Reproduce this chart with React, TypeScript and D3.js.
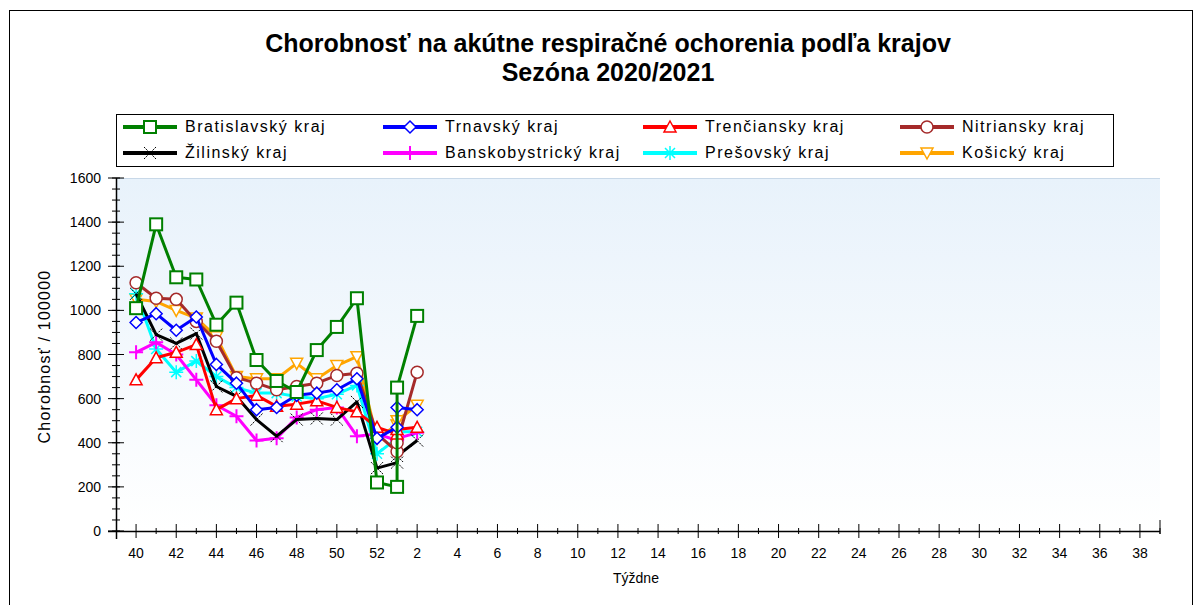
import * as d3 from "d3";

// weeks of season 2020/2021 (week 53 and week 1 share one x slot in the original)
const weeks = ["40", "41", "42", "43", "44", "45", "46", "47", "48", "49", "50", "51", "52", "53", "1", "2"];
const weekSlot = [0, 1, 2, 3, 4, 5, 6, 7, 8, 9, 10, 11, 12, 13, 13, 14];

const xTickLabels = ["40", "42", "44", "46", "48", "50", "52", "2", "4", "6", "8", "10", "12", "14", "16", "18", "20", "22", "24", "26", "28", "30", "32", "34", "36", "38"];
const yTicks = [0, 200, 400, 600, 800, 1000, 1200, 1400, 1600];

const bratislava = [1010, 1390, 1150, 1140, 935, 1035, 775, 680, 630, 820, 925, 1055, 220, 200, 650, 975];
const trnava = [945, 985, 910, 970, 755, 670, 550, 560, 615, 625, 640, 690, 420, 470, 560, 550];
const trencin = [685, 785, 810, 845, 550, 600, 615, 565, 575, 590, 560, 540, 470, 440, 460, 470];
const nitra = [1125, 1055, 1050, 950, 860, 695, 670, 640, 655, 670, 705, 715, 440, 360, 400, 720];
const zilina = [1075, 890, 850, 895, 655, 610, 505, 430, 505, 510, 505, 585, 285, 310, 340, 410];
const bbystrica = [810, 855, 800, 685, 570, 520, 410, 420, 515, 550, 560, 430, 440, 410, 420, 445];
const presov = [1075, 825, 720, 770, 700, 650, 625, 625, 610, 600, 620, 660, 350, 420, 450, 450];
const kosice = [1050, 1040, 1000, 965, 880, 700, 690, 690, 760, 690, 750, 790, 420, 480, 500, 570];

type Marker = "square" | "diamond" | "triangle" | "circle" | "x" | "plus" | "star" | "down";

const series: { name: string; values: number[]; color: string; marker: Marker }[] = [
  { name: "Bratislavský kraj", values: bratislava, color: "#008000", marker: "square" },
  { name: "Trnavský kraj", values: trnava, color: "#0000ff", marker: "diamond" },
  { name: "Trenčiansky kraj", values: trencin, color: "#ff0000", marker: "triangle" },
  { name: "Nitriansky kraj", values: nitra, color: "#a52a2a", marker: "circle" },
  { name: "Žilinský kraj", values: zilina, color: "#000000", marker: "x" },
  { name: "Banskobystrický kraj", values: bbystrica, color: "#ff00ff", marker: "plus" },
  { name: "Prešovský kraj", values: presov, color: "#00ffff", marker: "star" },
  { name: "Košický kraj", values: kosice, color: "#ffa500", marker: "down" },
];

const W = 1198;
const H = 605;
const plot = { left: 116, right: 1160, top: 178, bottom: 531 };
const font = "'Liberation Sans', Arial, sans-serif";

const x = d3.scaleLinear().domain([-1, 51]).range([plot.left, plot.right]);
const y = d3.scaleLinear().domain([0, 1600]).range([plot.bottom, plot.top]);

function MarkerShape({ type, cx, cy, color }: { type: Marker; cx: number; cy: number; color: string }) {
  switch (type) {
    case "square":
      return <rect x={cx - 6} y={cy - 6} width={12} height={12} fill="#fff" stroke={color} strokeWidth={2} />;
    case "diamond":
      return <path d={`M${cx},${cy - 6}L${cx + 6},${cy}L${cx},${cy + 6}L${cx - 6},${cy}Z`} fill="#fff" stroke={color} strokeWidth={1.5} />;
    case "triangle":
      return <path d={`M${cx},${cy - 6}L${cx + 6},${cy + 5}L${cx - 6},${cy + 5}Z`} fill="#fff" stroke={color} strokeWidth={1.5} />;
    case "down":
      return <path d={`M${cx},${cy + 6}L${cx + 6},${cy - 5}L${cx - 6},${cy - 5}Z`} fill="#fff" stroke={color} strokeWidth={1.5} />;
    case "circle":
      return <circle cx={cx} cy={cy} r={6} fill="#fff" stroke={color} strokeWidth={1.5} />;
    case "x":
      return <path d={`M${cx - 6},${cy - 6}L${cx + 6},${cy + 6}M${cx + 6},${cy - 6}L${cx - 6},${cy + 6}`} stroke={color} strokeWidth={1} strokeDasharray="2,1" />;
    case "plus":
      return <path d={`M${cx - 7},${cy}L${cx + 7},${cy}M${cx},${cy - 7}L${cx},${cy + 7}`} stroke={color} strokeWidth={2} />;
    case "star":
      return <path d={`M${cx - 7},${cy}L${cx + 7},${cy}M${cx},${cy - 7}L${cx},${cy + 7}M${cx - 5},${cy - 5}L${cx + 5},${cy + 5}M${cx + 5},${cy - 5}L${cx - 5},${cy + 5}`} stroke={color} strokeWidth={1.5} />;
  }
  return null;
}

export default function App() {
  const line = d3
    .line<number>()
    .x((_, i) => x(weekSlot[i]))
    .y((d) => y(d));

  const minorY = d3.range(0, 1601, 50);
  const allSlots = d3.range(0, 52);
  const legendCols = [123, 383, 643, 900];
  const legendRows = [127, 153];

  return (
    <svg width={W} height={H} style={{ position: "absolute", left: 0, top: 0, background: "#fff" }}>
      <defs>
        <linearGradient id="bg" x1="0" y1="0" x2="0" y2="1">
          <stop offset="0%" stopColor="#e8f2fb" />
          <stop offset="100%" stopColor="#ffffff" />
        </linearGradient>
      </defs>
      <rect x={9.5} y={10.5} width={1183} height={640} fill="#fff" stroke="#000" strokeWidth={1} />

      <text x={608} y={52} textAnchor="middle" fontFamily={font} fontWeight="bold" fontSize={25}>
        Chorobnosť na akútne respiračné ochorenia podľa krajov
      </text>
      <text x={608} y={81} textAnchor="middle" fontFamily={font} fontWeight="bold" fontSize={25}>
        Sezóna 2020/2021
      </text>

      {/* legend */}
      <rect x={116.5} y={114.5} width={997} height={52} fill="#fff" stroke="#000" strokeWidth={1} />
      {series.map((s, i) => {
        const lx = legendCols[i % 4];
        const ly = legendRows[Math.floor(i / 4)];
        return (
          <g key={s.name}>
            <line x1={lx} x2={lx + 54} y1={ly} y2={ly} stroke={s.color} strokeWidth={4} />
            <MarkerShape type={s.marker} cx={lx + 27} cy={ly} color={s.color} />
            <text x={lx + 62} y={ly + 5} fontFamily={font} fontSize={16} letterSpacing={1.5}>
              {s.name}
            </text>
          </g>
        );
      })}

      {/* plot area */}
      <rect x={plot.left} y={plot.top} width={plot.right - plot.left} height={plot.bottom - plot.top} fill="url(#bg)" />
      <line x1={plot.left} x2={plot.right} y1={plot.top + 0.5} y2={plot.top + 0.5} stroke="#c8d8e8" />

      {/* series, drawn so that the first region ends up on top */}
      {series
        .slice()
        .reverse()
        .map((s) => (
          <g key={s.name}>
            <path d={line(s.values) ?? ""} fill="none" stroke={s.color} strokeWidth={3} strokeLinejoin="round" />
            {s.values.map((v, i) => (
              <MarkerShape key={i} type={s.marker} cx={x(weekSlot[i])} cy={y(v)} color={s.color} />
            ))}
          </g>
        ))}

      {/* y axis */}
      <line x1={plot.left + 0.5} x2={plot.left + 0.5} y1={plot.top} y2={plot.bottom + 8} stroke="#000" strokeWidth={1.5} />
      {minorY.map((v) => (
        <line key={v} x1={plot.left - 4} x2={plot.left + 4} y1={y(v)} y2={y(v)} stroke="#000" />
      ))}
      {yTicks.map((v) => (
        <g key={v}>
          <line x1={plot.left - 8} x2={plot.left + 8} y1={y(v)} y2={y(v)} stroke="#000" />
          <text x={101} y={y(v) + 5} textAnchor="end" fontFamily={font} fontSize={14}>
            {v}
          </text>
        </g>
      ))}
      <text transform={`translate(50,${(plot.top + plot.bottom) / 2 + 2}) rotate(-90)`} textAnchor="middle" fontFamily={font} fontSize={16} letterSpacing={1.2}>
        Chorobnosť / 100000
      </text>

      {/* x axis */}
      <line x1={plot.left - 8} x2={plot.right} y1={plot.bottom + 0.5} y2={plot.bottom + 0.5} stroke="#000" strokeWidth={1.5} />
      {allSlots.map((s) =>
        s % 2 === 1 ? (
          <line key={s} x1={x(s)} x2={x(s)} y1={plot.bottom - 3} y2={plot.bottom + 3} stroke="#000" />
        ) : null
      )}
      {xTickLabels.map((lab, k) => (
        <g key={lab + k}>
          <line x1={x(2 * k)} x2={x(2 * k)} y1={plot.bottom - 7} y2={plot.bottom + 7} stroke="#000" />
          <text x={x(2 * k)} y={plot.bottom + 27} textAnchor="middle" fontFamily={font} fontSize={14}>
            {lab}
          </text>
        </g>
      ))}
      <line x1={plot.right} x2={plot.right} y1={plot.bottom - 11} y2={plot.bottom + 3} stroke="#000" />
      <text x={636} y={plot.bottom + 52} textAnchor="middle" fontFamily={font} fontSize={14}>
        Týždne
      </text>
    </svg>
  );
}
